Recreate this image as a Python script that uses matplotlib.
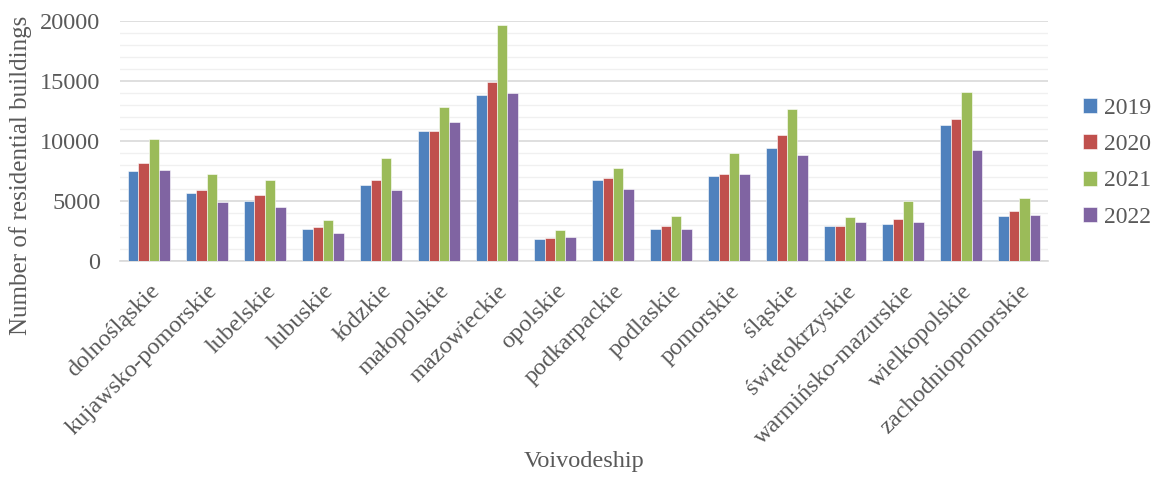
import matplotlib.pyplot as plt
import numpy as np
from matplotlib.ticker import MultipleLocator

plt.rcParams['font.family'] = ['Liberation Serif', 'DejaVu Serif']

voivodeships = ["dolnośląskie", "kujawsko-pomorskie", "lubelskie", "lubuskie", "łódzkie",
                "małopolskie", "mazowieckie", "opolskie", "podkarpackie", "podlaskie",
                "pomorskie", "śląskie", "świętokrzyskie", "warmińsko-mazurskie",
                "wielkopolskie", "zachodniopomorskie"]
years = ["2019", "2020", "2021", "2022"]

b2019 = [7540, 5650, 4980, 2700, 6310, 10850, 13880, 1810, 6790, 2700, 7120, 9400, 2920, 3120, 11380, 3780]
b2020 = [8150, 5900, 5480, 2810, 6730, 10880, 14960, 1920, 6930, 2950, 7230, 10540, 2950, 3530, 11820, 4150]
b2021 = [10210, 7290, 6730, 3450, 8600, 12820, 19670, 2620, 7760, 3730, 9010, 12710, 3700, 5040, 14080, 5290]
b2022 = [7620, 4950, 4510, 2360, 5930, 11630, 14050, 2000, 5980, 2670, 7290, 8870, 3250, 3250, 9290, 3810]

colors = ["#4F81BD", "#C0504D", "#9BBB59", "#8064A2"]
text_col = "#595959"

fig = plt.figure(figsize=(11.53, 4.8), dpi=100)
ax = fig.add_axes([0.104, 0.456, 0.805, 0.5])

x = np.arange(len(voivodeships))
w = 0.18
for i, (vals, yr) in enumerate(zip([b2019, b2020, b2021, b2022], years)):
    ax.bar(x + (i - 1.5) * w, vals, width=w, color=colors[i], label=yr,
           edgecolor="white", linewidth=0.4, zorder=3)

ax.set_xlim(-0.5, len(voivodeships) - 0.5)
ax.set_ylim(0, 20000)
ax.yaxis.set_major_locator(MultipleLocator(5000))
ax.yaxis.set_minor_locator(MultipleLocator(1000))
ax.grid(axis='y', which='major', color="#D9D9D9", linewidth=1.2, zorder=0)
ax.grid(axis='y', which='minor', color="#F0F0F0", linewidth=1.0, zorder=0)

for s in ['top', 'right', 'left']:
    ax.spines[s].set_visible(False)
ax.spines['bottom'].set_color("#D9D9D9")
ax.spines['bottom'].set_linewidth(1.2)
ax.tick_params(axis='both', which='both', length=0, colors=text_col)
ax.tick_params(axis='y', labelsize=17.5, pad=14)
ax.tick_params(axis='x', labelsize=17.5, pad=14)

ax.set_xticks(x)
ax.set_xticklabels(voivodeships, rotation=45, ha='right', rotation_mode='anchor')

# axis titles placed on the figure
fig.text(0.018, 0.635, "Number of residential buildings", fontsize=18, color=text_col,
         rotation=90, ha='center', va='center')
fig.text(0.507, 0.028, "Voivodeship", fontsize=17.5, color=text_col, ha='center')

leg = ax.legend(loc='center left', bbox_to_anchor=(1.027, 0.41), frameon=False,
                fontsize=17, handlelength=0.6, handleheight=0.6, handletextpad=0.3,
                labelspacing=0.65, borderaxespad=0.0)
for t in leg.get_texts():
    t.set_color(text_col)

fig.savefig("out.png", dpi=100)
